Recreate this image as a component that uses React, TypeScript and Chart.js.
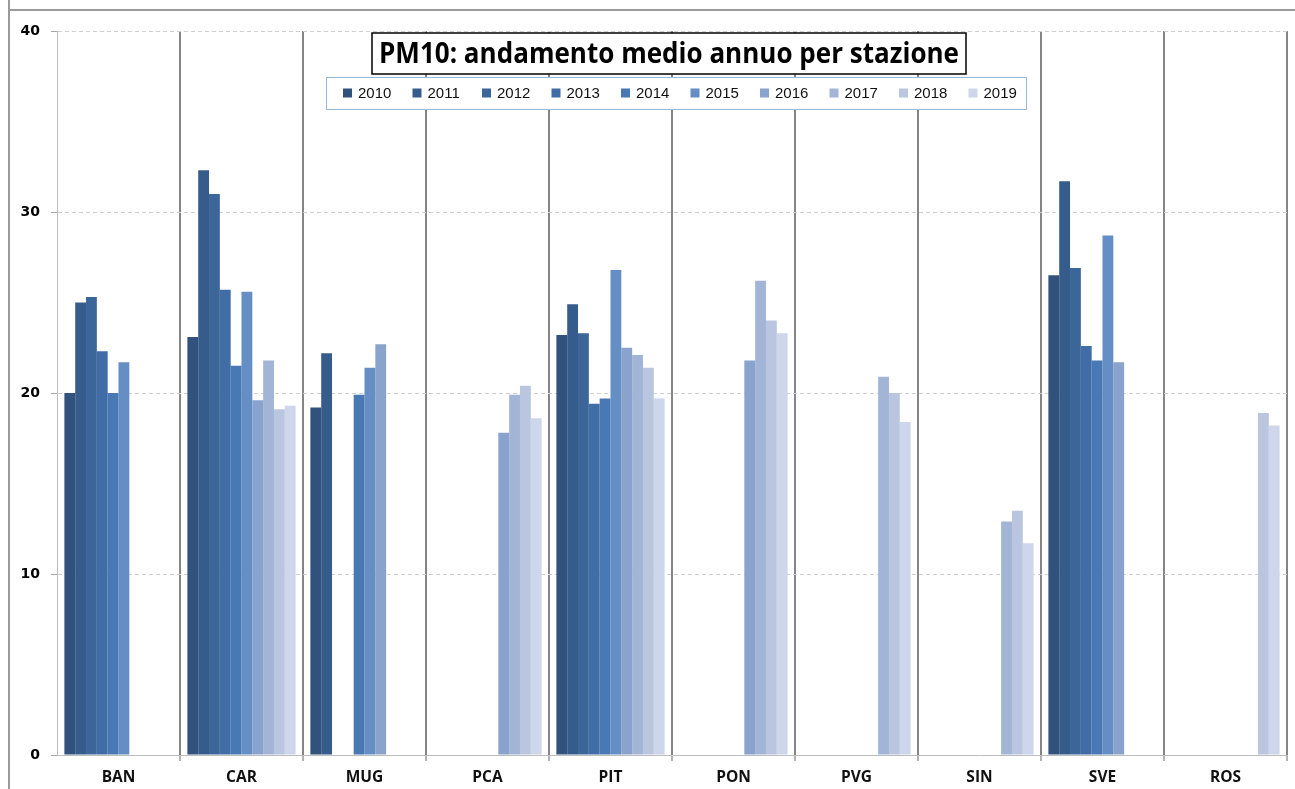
import React, { useEffect, useRef } from "react";
import { Chart, registerables } from "chart.js";

Chart.register(...registerables);

const stations = ["BAN", "CAR", "MUG", "PCA", "PIT", "PON", "PVG", "SIN", "SVE", "ROS"];
const years = ["2010", "2011", "2012", "2013", "2014", "2015", "2016", "2017", "2018", "2019"];
const titleText = "PM10: andamento medio annuo per stazione";
const yTicks = [0, 10, 20, 30, 40];

const v2010 = [20.0, 23.1, 19.2, null, 23.2, null, null, null, 26.5, null];
const v2011 = [25.0, 32.3, 22.2, null, 24.9, null, null, null, 31.7, null];
const v2012 = [25.3, 31.0, null, null, 23.3, null, null, null, 26.9, null];
const v2013 = [22.3, 25.7, null, null, 19.4, null, null, null, 22.6, null];
const v2014 = [20.0, 21.5, 19.9, null, 19.7, null, null, null, 21.8, null];
const v2015 = [21.7, 25.6, 21.4, null, 26.8, null, null, null, 28.7, null];
const v2016 = [null, 19.6, 22.7, 17.8, 22.5, 21.8, null, null, 21.7, null];
const v2017 = [null, 21.8, null, 19.9, 22.1, 26.2, 20.9, 12.9, null, null];
const v2018 = [null, 19.1, null, 20.4, 21.4, 24.0, 20.0, 13.5, null, 18.9];
const v2019 = [null, 19.3, null, 18.6, 19.7, 23.3, 18.4, 11.7, null, 18.2];

const seriesValues = [v2010, v2011, v2012, v2013, v2014, v2015, v2016, v2017, v2018, v2019];

const colors = [
  "#30527C",
  "#365C8C",
  "#3C659A",
  "#416DA6",
  "#4879B4",
  "#658EC4",
  "#8AA3CC",
  "#A3B5D7",
  "#BAC6E0",
  "#CDD6EA",
];

const framePlugin = {
  id: "frame",
  beforeDraw(chart: any) {
    const ctx = chart.ctx;
    ctx.save();
    ctx.strokeStyle = "#9a9a9a";
    ctx.lineWidth = 2;
    ctx.beginPath();
    ctx.moveTo(9, 0);
    ctx.lineTo(9, chart.height);
    ctx.moveTo(9, 10);
    ctx.lineTo(chart.width, 10);
    ctx.stroke();
    ctx.restore();
  },
};

const overlayPlugin = {
  id: "overlay",
  afterDraw(chart: any) {
    const ctx = chart.ctx;
    const ca = chart.chartArea;
    ctx.save();
    // Title box
    const tLeft = ca.left + 315;
    const tTop = 33;
    const tW = 594;
    const tH = 41;
    ctx.fillStyle = "#ffffff";
    ctx.fillRect(tLeft, tTop, tW, tH);
    ctx.strokeStyle = "#000000";
    ctx.lineWidth = 1.5;
    ctx.strokeRect(tLeft, tTop, tW, tH);
    ctx.fillStyle = "#000000";
    ctx.font = "bold 29px 'Open Sans', sans-serif";
    ctx.textAlign = "center";
    ctx.textBaseline = "middle";
    ctx.fillText(titleText, tLeft + tW / 2, tTop + tH / 2 + 1, tW - 14);

    // Legend box
    const lLeft = ca.left + 269;
    const lTop = 77;
    const lW = 700;
    const lH = 32;
    ctx.fillStyle = "#ffffff";
    ctx.fillRect(lLeft, lTop, lW, lH);
    ctx.strokeStyle = "#9CB6D8";
    ctx.lineWidth = 1;
    ctx.strokeRect(lLeft + 0.5, lTop + 0.5, lW, lH);
    ctx.font = "15px 'Liberation Sans', Arial, sans-serif";
    ctx.textAlign = "left";
    ctx.textBaseline = "middle";
    const ds = chart.data.datasets;
    for (let i = 0; i < ds.length; i++) {
      const mx = lLeft + 17 + i * 69.5;
      const my = lTop + lH / 2;
      ctx.fillStyle = ds[i].backgroundColor;
      ctx.fillRect(mx, my - 4.5, 9, 9);
      ctx.fillStyle = "#111111";
      ctx.fillText(ds[i].label, mx + 15, my + 1);
    }
    ctx.restore();
  },
};

export default function App() {
  const canvasRef = useRef<HTMLCanvasElement | null>(null);

  useEffect(() => {
    if (!canvasRef.current) return;
    const chart = new Chart(canvasRef.current, {
      type: "bar",
      data: {
        labels: stations,
        datasets: years.map((y, i) => ({
          label: y,
          data: seriesValues[i],
          backgroundColor: colors[i],
          borderWidth: 0,
          barPercentage: 1,
          categoryPercentage: 0.88,
        })),
      },
      options: {
        responsive: true,
        maintainAspectRatio: false,
        animation: false,
        layout: { padding: { top: 31, right: 8, bottom: 0, left: 0 } },
        plugins: {
          legend: { display: false },
          title: { display: false },
          tooltip: { enabled: false },
        },
        scales: {
          x: {
            offset: true,
            afterFit(scale: any) {
              scale.height = 34;
            },
            grid: {
              offset: true,
              color: (c: any) => (c.index === 0 ? "rgba(0,0,0,0)" : "#858585"),
              tickColor: (c: any) => (c.index === 0 ? "rgba(0,0,0,0)" : "#9a9a9a"),
              lineWidth: 2,
              tickWidth: 1.5,
              tickLength: 6,
            },
            border: { display: true, color: "#bdbdbd", width: 1 },
            ticks: {
              color: "#111111",
              padding: 7,
              font: { family: "'Open Sans', sans-serif", size: 15.5, weight: "bold" },
            },
          },
          y: {
            min: 0,
            max: 40,
            afterFit(scale: any) {
              scale.width = 57;
            },
            afterBuildTicks(scale: any) {
              scale.ticks = yTicks.map((v) => ({ value: v }));
            },
            grid: {
              color: "#cfcfcf",
              lineWidth: 1,
              tickColor: "#a8a8a8",
              tickLength: 6,
              tickBorderDash: [],
            },
            border: { display: true, color: "#bdbdbd", width: 1, dash: [4, 3] },
            ticks: {
              color: "#000000",
              padding: 11,
              font: { family: "'DejaVu Sans', sans-serif", size: 14, weight: "bold" },
            },
          },
        },
      },
      plugins: [framePlugin, overlayPlugin],
    });
    return () => chart.destroy();
  }, []);

  return (
    <div style={{ position: "absolute", left: 0, top: 0, width: 1295, height: 789, background: "#ffffff" }}>
      <canvas ref={canvasRef} />
    </div>
  );
}
